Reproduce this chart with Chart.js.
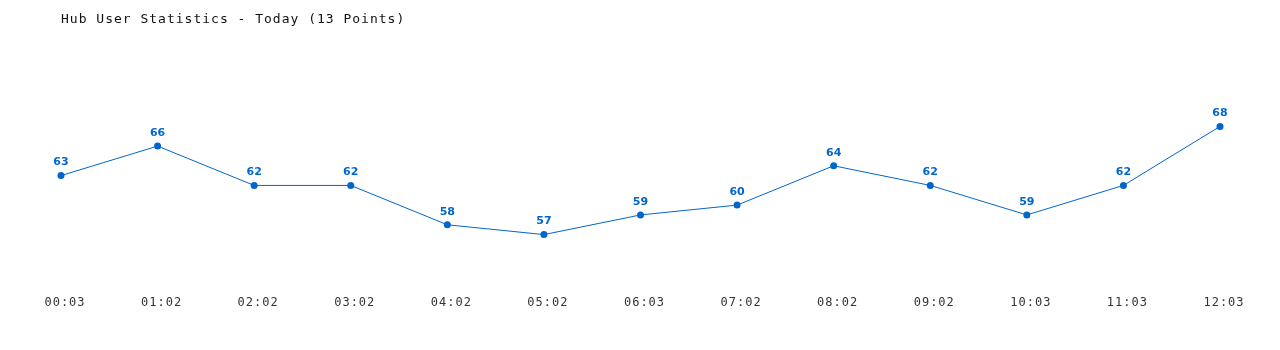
<!DOCTYPE html>
<html>
<head>
<meta charset="utf-8">
<script src="https://cdn.jsdelivr.net/npm/chart.js@4"></script>
<style>
  html, body { margin: 0; padding: 0; background: #fff; }
  #wrap { width: 1280px; height: 350px; }
</style>
</head>
<body>
<div id="wrap"><canvas id="myChart" width="1280" height="350"></canvas></div>
<script>
var times = ["00:03","01:02","02:02","03:02","04:02","05:02","06:03","07:02","08:02","09:02","10:03","11:03","12:03"]
var users = [63,66,62,62,58,57,59,60,64,62,59,62,68]
var chartTitle = "Hub User Statistics - Today (13 Points)"

// letter spacing for the mono texts
var spacing = {
  id: "spacing",
  beforeDraw: function(chart){ chart.ctx.letterSpacing = "1px" }
}

// value labels above each point
var valueLabels = {
  id: "valueLabels",
  afterDatasetsDraw: function(chart){
    var ctx = chart.ctx
    var meta = chart.getDatasetMeta(0)
    ctx.save()
    ctx.letterSpacing = "0px"
    ctx.font = "bold 11px 'DejaVu Sans'"
    ctx.fillStyle = "#0066cc"
    ctx.textAlign = "center"
    ctx.textBaseline = "middle"
    meta.data.forEach(function(pt, i){
      ctx.fillText(users[i], pt.x, pt.y - 13)
    })
    ctx.restore()
  }
}

var myChart = document.getElementById("myChart").getContext("2d")
var chart = new Chart(myChart, {
  type: "line",
  data: {
    labels: times,
    datasets: [
      {
        label: "Users",
        data: users,
        borderColor: "#0066cc",
        backgroundColor: "#0066cc",
        borderWidth: 1,
        pointRadius: 3.5,
        pointBorderWidth: 0,
        tension: 0
      }
    ]
  },
  options: {
    responsive: false,
    animation: false,
    layout: { padding: { left: 61, right: 60, top: 0, bottom: 38 } },
    plugins: {
      legend: { display: false },
      tooltip: { enabled: false },
      title: {
        display: true,
        text: chartTitle,
        align: "start",
        color: "#111",
        font: { family: "'DejaVu Sans Mono'", size: 13, weight: "normal" },
        padding: { top: 12, bottom: 30 }
      }
    },
    scales: {
      x: {
        offset: false,
        grid: { display: false, drawTicks: false },
        border: { display: false },
        ticks: {
          color: "#333",
          padding: 2,
          labelOffset: 4,
          maxRotation: 0,
          autoSkip: false,
          font: { family: "'DejaVu Sans Mono'", size: 12 }
        }
      },
      y: {
        display: false,
        min: 51,
        max: 75
      }
    }
  },
  plugins: [spacing, valueLabels]
})
</script>
</body>
</html>
